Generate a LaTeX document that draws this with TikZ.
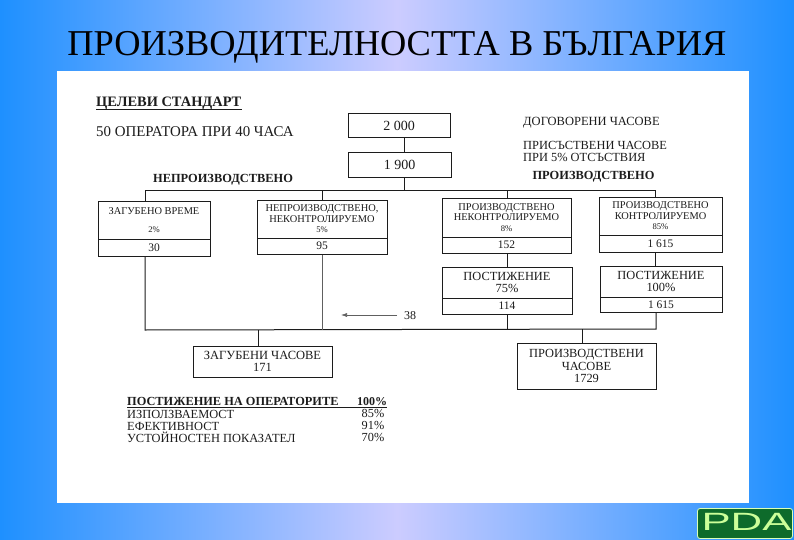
\documentclass[tikz,border=0pt]{standalone}
\usepackage{fontspec}
\usetikzlibrary{arrows.meta}
\setmainfont{Liberation Serif}
\newfontfamily\logofont{Liberation Sans}
\definecolor{ink}{HTML}{1C1C1C}
\definecolor{bgblue}{HTML}{1E90FF}
\definecolor{bgmid}{HTML}{CCCCFF}
\definecolor{logogreen}{HTML}{0E6B2B}
\definecolor{logotext}{HTML}{CCFF99}
\newcommand{\fs}[1]{\fontsize{#1}{#1}\selectfont}
\newcommand{\pct}[1]{{\fs{8.6}#1\%}}
\tikzset{
  x=1pt,y=-1pt,
  cell/.style={draw=ink,line width=1pt,fill=white,inner sep=0pt,align=center,text=ink,font=\fs{10.4}},
  wire/.style={draw=ink,line width=1pt},
  thinwire/.style={draw=ink!70,line width=0.6pt},
  lbl/.style={inner sep=0pt,text=ink,anchor=base west,font=\fs{12.4}},
  head/.style={inner sep=0pt,text=ink,font=\fs{12.4}\bfseries},
  val/.style={inner sep=0pt,text=ink,font=\fs{12.3}},
}
\begin{document}
\begin{tikzpicture}
\useasboundingbox (0,0) rectangle (794,540);
\shade[left color=bgblue,right color=bgblue,middle color=bgmid] (0,0) rectangle (794,540);
\fill[white] (57,71) rectangle (749,503);
\node[inner sep=0pt,text=black,font=\fs{36.4}] (title) at (397,47.5) {ПРОИЗВОДИТЕЛНОСТТА В БЪЛГАРИЯ};

% left texts
\node[inner sep=0pt,anchor=west,text=ink,font=\fs{14.4}\bfseries] (goal) at (96,103.5) {ЦЕЛЕВИ СТАНДАРТ};
\coordinate (goalL) at (96,110); \coordinate (goalR) at (242,110);
\draw[wire] (goalL) -- (goalR);
\node[lbl,anchor=west,font=\fs{14.9}] (ops) at (96,132) {50 ОПЕРАТОРА ПРИ 40 ЧАСА};
\node[lbl,anchor=west,font=\fs{12.5}] (agreed) at (523,123) {ДОГОВОРЕНИ ЧАСОВЕ};
\node[lbl,anchor=west,font=\fs{12.4},align=left] (present) at (523,151.5) {ПРИСЪСТВЕНИ ЧАСОВЕ\\ПРИ 5\% ОТСЪСТВИЯ};
\node[head] (nonprod) at (223,180) {НЕПРОИЗВОДСТВЕНО};
\node[head] (prod) at (593.5,177) {ПРОИЗВОДСТВЕНО};

% top boxes
\node[cell,minimum width=102pt,minimum height=24pt,font=\fs{14}] (b2000) at (399,126) {2 000};
\node[cell,minimum width=103pt,minimum height=24pt,font=\fs{14}] (b1900) at (399.5,165) {1 900};

% buses
\coordinate (upL) at (145,191);
\coordinate (upR) at (655,190);
\coordinate (upM) at (404,190.5);
\coordinate (upB) at (322,190.5);
\coordinate (upC) at (507,190.5);
\coordinate (loL) at (145,330);
\coordinate (loR) at (656,329);
\coordinate (loM) at (258,330);
\coordinate (loB) at (322,330);
\coordinate (loE) at (507,329.5);
\coordinate (loH) at (582,329);
\coordinate (arrS) at (397,315);
\coordinate (arrE) at (341,315);

% second row
\node[cell,minimum width=112pt,minimum height=38pt] (aT) at (154,220) {ЗАГУБЕНО ВРЕМЕ\\[8pt]\pct{2}};
\node[cell,minimum width=112pt,minimum height=17pt,font=\fs{11.5}] (aB) at (154,247.5) {30};
\node[cell,minimum width=130pt,minimum height=38pt] (bT) at (322,219) {НЕПРОИЗВОДСТВЕНО,\\НЕКОНТРОЛИРУЕМО\\\pct{5}};
\node[cell,minimum width=130pt,minimum height=16pt,font=\fs{11.5}] (bB) at (322,246) {95};
\node[cell,minimum width=129pt,minimum height=39pt] (cT) at (506.5,217.5) {ПРОИЗВОДСТВЕНО\\НЕКОНТРОЛИРУЕМО\\\pct{8}};
\node[cell,minimum width=129pt,minimum height=16pt,font=\fs{11.5}] (cB) at (506.5,245) {152};
\node[cell,minimum width=123pt,minimum height=38pt] (dT) at (660.5,216) {ПРОИЗВОДСТВЕНО\\КОНТРОЛИРУЕМО\\\pct{85}};
\node[cell,minimum width=123pt,minimum height=17pt,font=\fs{11.5}] (dB) at (660.5,243.5) {1 615};

% third row
\node[cell,minimum width=130pt,minimum height=31pt,font=\fs{12.4}] (eT) at (507,282.5) {ПОСТИЖЕНИЕ\\75\%};
\node[cell,minimum width=130pt,minimum height=16pt,font=\fs{11.5}] (eB) at (507,306) {114};
\node[cell,minimum width=122pt,minimum height=31pt,font=\fs{12.4}] (fT) at (661,281.5) {ПОСТИЖЕНИЕ\\100\%};
\node[cell,minimum width=122pt,minimum height=15pt,font=\fs{11.5}] (fB) at (661,304.5) {1 615};

% bottom boxes
\node[cell,minimum width=139pt,minimum height=31pt,font=\fs{12.5}] (lost) at (262.5,361.5) {ЗАГУБЕНИ ЧАСОВЕ\\171};
\node[cell,minimum width=139pt,minimum height=46pt,font=\fs{12.4}] (made) at (586.5,366) {ПРОИЗВОДСТВЕНИ\\ЧАСОВЕ\\1729};

\node[inner sep=0pt,text=ink,font=\fs{12}] (n38) at (410,316) {38};

% connectors
\draw[wire] (b2000.south -| upM) -- (b1900.north -| upM);
\draw[wire] (b1900.south -| upM) -- (upM);
\draw[wire] (aT.north -| upL) |- (upM) -| (dT.north -| upR);
\draw[wire] (upB) -- (bT.north -| upB);
\draw[wire] (upC) -- (cT.north -| upC);
\draw[wire] (cB.south -| upC) -- (eT.north -| upC);
\draw[wire] (dB.south -| upR) -- (fT.north -| upR);
\draw[wire] (aB.south -| loL) -- (loL) -- (loR) -- (fB.south -| loR);
\draw[thinwire] (bB.south -| loB) -- (loB);
\draw[wire] (eB.south -| loE) -- (loE);
\draw[wire] (loM) -- (lost.north -| loM);
\draw[wire] (loH) -- (made.north -| loH);
\draw[thinwire,-{Latex[length=6pt,width=4pt]}] (arrS) -- (arrE);

% table
\node[lbl,font=\fs{12.35}\bfseries] (t0) at (127,405.5) {ПОСТИЖЕНИЕ НА ОПЕРАТОРИТЕ};
\node[val,font=\fs{12}\bfseries] (v0) at (372,401.5) {100\%};
\coordinate (ruleL) at (127,407.5); \coordinate (ruleR) at (387,407.5);
\draw[wire] (ruleL) -- (ruleR);
\node[lbl] (t1) at (127,418) {ИЗПОЛЗВАЕМОСТ};
\node[val] (v1) at (373,413) {85\%};
\node[lbl] (t2) at (127,430) {ЕФЕКТИВНОСТ};
\node[val] (v2) at (373,425) {91\%};
\node[lbl] (t3) at (127,442) {УСТОЙНОСТЕН ПОКАЗАТЕЛ};
\node[val] (v3) at (373,437) {70\%};

% logo
\draw[fill=logogreen,draw=logotext!70!white,line width=0.8pt,rounded corners=2.5pt] (697.5,508.5) rectangle (792.5,538.5);
\node[inner sep=0pt,text=logotext,font=\logofont\fs{25},xscale=1.75,transform shape] (pda) at (746.5,521.5) {PDA};
\end{tikzpicture}
\end{document}
